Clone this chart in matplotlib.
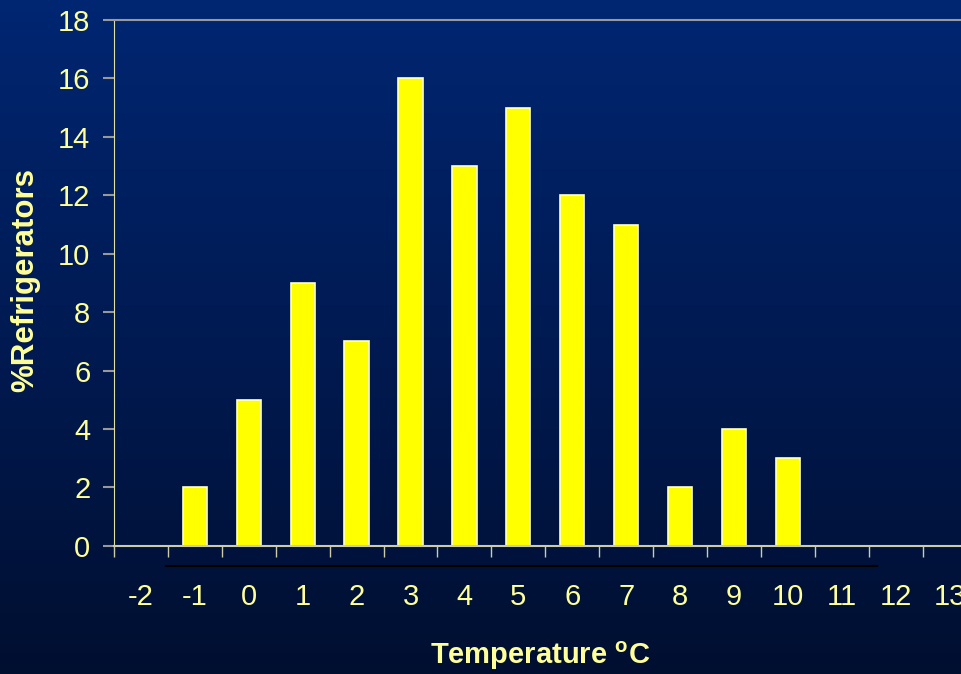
import matplotlib.pyplot as plt
import numpy as np
from matplotlib.colors import LinearSegmentedColormap

temps = [-2, -1, 0, 1, 2, 3, 4, 5, 6, 7, 8, 9, 10, 11, 12, 13]
pct = [0, 2, 5, 9, 7, 16, 13, 15, 12, 11, 2, 4, 3, 0, 0, 0]
yticks = [0, 2, 4, 6, 8, 10, 12, 14, 16, 18]

txt = '#ffff99'
plt.rcParams['font.family'] = ['Liberation Sans', 'DejaVu Sans']

fig = plt.figure(figsize=(9.62, 6.74), dpi=100)

# fond en degrade
bg = fig.add_axes([0, 0, 1, 1])
grad = np.linspace(0, 1, 256).reshape(-1, 1)
cmap = LinearSegmentedColormap.from_list('bg', ['#002672', '#001a52', '#000f30'])
bg.imshow(grad, aspect='auto', cmap=cmap, extent=[0, 1, 0, 1])
bg.axis('off')

ax = fig.add_axes([0.1185, 0.19, 0.8815, 0.7804])
ax.patch.set_alpha(0)

x = np.arange(len(temps))
ax.bar(x, pct, width=0.45, color='#ffff00', edgecolor='#ffffcc', linewidth=1.2)

ax.set_xlim(-0.5, 15.23)
ax.set_ylim(0, 18)
ax.set_yticks(yticks)
ax.set_xticks(x)
ax.set_xticklabels([str(t) for t in temps])
ax.set_xticks(np.arange(len(temps)) - 0.5, minor=True)

ax.tick_params(axis='x', which='major', length=0, pad=27, labelsize=21, labelcolor=txt)
ax.tick_params(axis='x', which='minor', length=8, width=1, color='#ccccaa', direction='out')
ax.tick_params(axis='y', length=8, width=1.5, color='#999999', pad=9, labelsize=21, labelcolor=txt)

ax.spines['left'].set_color('#e0e0a0')
ax.spines['bottom'].set_color('#ccccaa')
ax.spines['bottom'].set_linewidth(1.5)
ax.spines['top'].set_color('#999999')
ax.spines['top'].set_linewidth(1.5)
ax.spines['right'].set_visible(False)

ax.set_ylabel('%Refrigerators', fontsize=22.5, fontweight='bold', color=txt)
ax.yaxis.set_label_coords(-0.087, 0.505)
fig.text(0.562, 0.027, r'Temperature $\mathregular{^o}$C', fontsize=21, fontweight='bold',
         color=txt, ha='center', va='center')

# trait noir sous l'axe
fig.add_artist(plt.Line2D([166 / 962, 877 / 962], [1 - 566 / 674, 1 - 566 / 674],
                          color='black', linewidth=1.5))

fig.savefig('out.png', dpi=100)
